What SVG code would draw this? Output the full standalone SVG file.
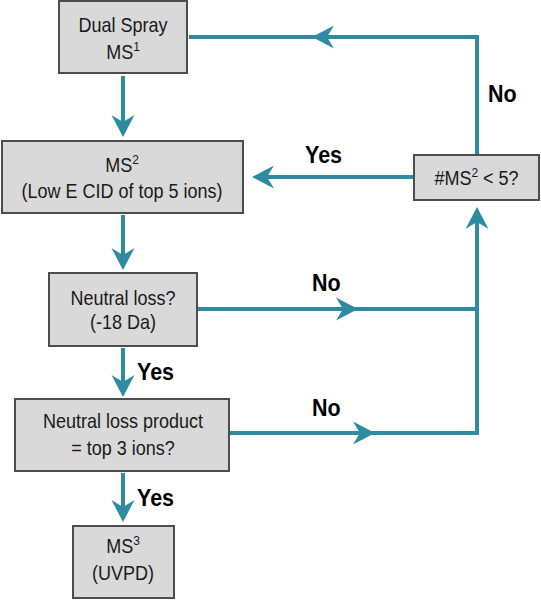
<svg xmlns="http://www.w3.org/2000/svg" width="541" height="600" viewBox="0 0 541 600">
<style>
.box{fill:#d9d9d9;stroke:#4d4d4d;stroke-width:2}
.t{font-family:"Liberation Sans",Arial,sans-serif;font-size:18px;fill:#1a1a1a;text-anchor:middle}
.sup{font-size:12px}
.lbl{font-family:"Liberation Sans",Arial,sans-serif;font-size:21.5px;font-weight:bold;fill:#000}
.c{fill:none;stroke:#2e8ba1;stroke-width:4}
.ah{fill:#2e8ba1}
</style>
<defs>
<path id="arr" d="M0,0 L-22,-11.5 L-15,0 L-22,11.5 Z"/>
</defs>
<rect width="541" height="600" fill="#fff"/>
<g id="connectors">
<path class="c" d="M477,155 V37 H189"/>
<use href="#arr" class="ah" transform="translate(312,37) rotate(180)"/>
<path class="c" d="M414,177 H256"/>
<use href="#arr" class="ah" transform="translate(252,177) rotate(180)"/>
<path class="c" d="M197,309 H477"/>
<use href="#arr" class="ah" transform="translate(358,309)"/>
<path class="c" d="M229,433 H477 V211"/>
<use href="#arr" class="ah" transform="translate(477,207) rotate(-90)"/>
<use href="#arr" class="ah" transform="translate(375,433)"/>
<path class="c" d="M123,76 V133"/>
<use href="#arr" class="ah" transform="translate(123,137) rotate(90)"/>
<path class="c" d="M123,215 V266"/>
<use href="#arr" class="ah" transform="translate(123,270) rotate(90)"/>
<path class="c" d="M123,348 V393"/>
<use href="#arr" class="ah" transform="translate(123,397) rotate(90)"/>
<path class="c" d="M123,473 V518"/>
<use href="#arr" class="ah" transform="translate(123,522) rotate(90)"/>
<text class="lbl" transform="translate(488,102) scale(1,1.15)">No</text>
<text class="lbl" transform="translate(305,163) scale(1,1.15)">Yes</text>
<text class="lbl" transform="translate(312,291) scale(1,1.15)">No</text>
<text class="lbl" transform="translate(312,416) scale(1,1.15)">No</text>
<text class="lbl" transform="translate(137,380) scale(1,1.15)">Yes</text>
<text class="lbl" transform="translate(137,506) scale(1,1.15)">Yes</text>
</g>
<g id="dualspray">
<rect class="box" x="59" y="1" width="128" height="72"/>
<text class="t" transform="translate(123,32) scale(1,1.08)">Dual Spray</text>
<text class="t" transform="translate(123,59) scale(1,1.08)">MS<tspan class="sup" dy="-7">1</tspan></text>
</g>
<g id="ms2">
<rect class="box" x="2" y="141" width="241" height="72"/>
<text class="t" transform="translate(122,172) scale(1,1.08)">MS<tspan class="sup" dy="-7">2</tspan></text>
<text class="t" transform="translate(122,198) scale(1,1.08)">(Low E CID of top 5 ions)</text>
</g>
<g id="decision">
<rect class="box" x="414" y="155" width="125" height="45"/>
<text class="t" transform="translate(476.5,185) scale(1,1.08)">#MS<tspan class="sup" dy="-7">2</tspan><tspan dy="7"> &lt; 5?</tspan></text>
</g>
<g id="neutralloss">
<rect class="box" x="49" y="273" width="148" height="73"/>
<text class="t" transform="translate(123,305) scale(1,1.08)">Neutral loss?</text>
<text class="t" transform="translate(123,329) scale(1,1.08)">(-18 Da)</text>
</g>
<g id="nlproduct">
<rect class="box" x="15" y="399" width="214" height="72"/>
<text class="t" transform="translate(123,428) scale(1,1.08)">Neutral loss product</text>
<text class="t" transform="translate(123,455) scale(1,1.08)">= top 3 ions?</text>
</g>
<g id="ms3">
<rect class="box" x="73" y="526" width="101" height="72"/>
<text class="t" transform="translate(123,553) scale(1,1.08)">MS<tspan class="sup" dy="-7">3</tspan></text>
<text class="t" transform="translate(123,580) scale(1,1.08)">(UVPD)</text>
</g>
</svg>
